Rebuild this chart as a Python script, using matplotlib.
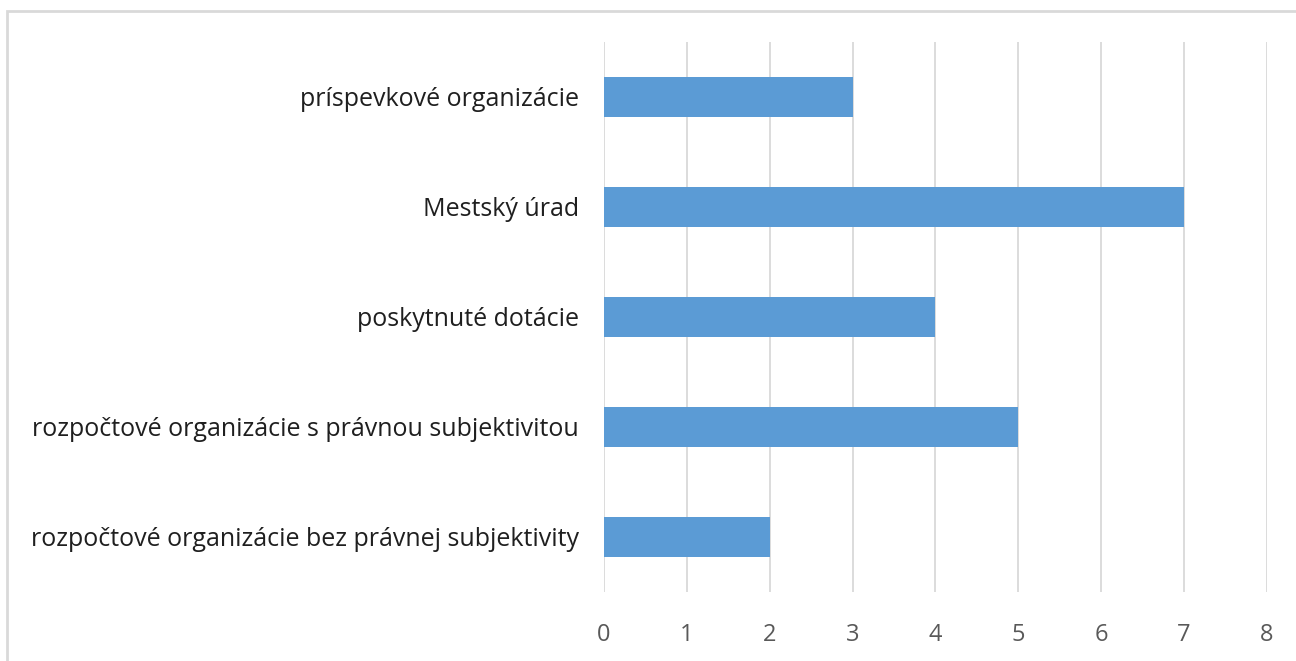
import matplotlib.pyplot as plt
from matplotlib.patches import Rectangle

kategorie = [
    "rozpočtové organizácie bez právnej subjektivity",
    "rozpočtové organizácie s právnou subjektivitou",
    "poskytnuté dotácie",
    "Mestský úrad",
    "príspevkové organizácie",
]
hodnoty = [2, 5, 4, 7, 3]
x_ticky = [0, 1, 2, 3, 4, 5, 6, 7, 8]

plt.rcParams['font.family'] = ['Open Sans', 'DejaVu Sans']

fig = plt.figure(figsize=(12.96, 6.61), dpi=100)
ax = fig.add_axes([0.466, 0.1044, 0.5116, 0.8321])

y = range(len(kategorie))
ax.barh(y, hodnoty, height=0.36, color='#5b9bd5', zorder=3)

ax.set_xlim(0, 8)
ax.set_ylim(-0.5, len(kategorie) - 0.5)
ax.set_xticks(x_ticky)
ax.set_yticks(list(y))
ax.set_yticklabels(kategorie, fontsize=18, color='#1f1f1f')
ax.tick_params(axis='x', labelsize=17, labelcolor='#595959', length=0, pad=22)
ax.tick_params(axis='y', length=0, pad=18)
ax.grid(True, axis='x', color='#d9d9d9', linewidth=1.3, zorder=0)
for s in ax.spines.values():
    s.set_visible(False)

# ramik okolo grafu
fig.add_artist(Rectangle((7 / 1296, -0.1), 1.2, 1 - 11 / 661 + 0.1, transform=fig.transFigure,
                         fill=False, edgecolor='#d9d9d9', linewidth=2))

fig.savefig('out.png', dpi=100)
